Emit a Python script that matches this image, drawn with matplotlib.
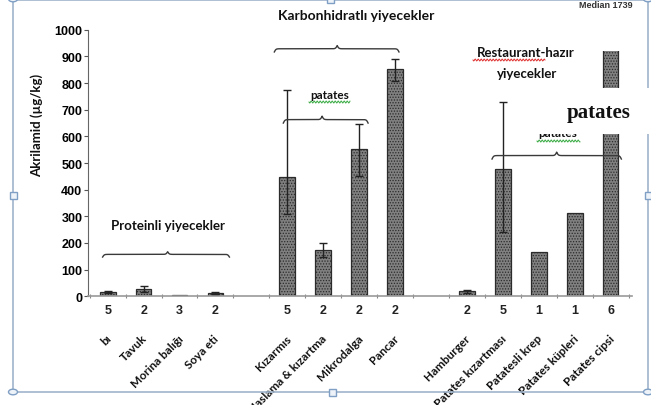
import numpy as np
import matplotlib
matplotlib.use("Agg")
import matplotlib.pyplot as plt
from matplotlib.patches import Rectangle, Circle
from matplotlib.lines import Line2D

# Akrilamid düzeyleri (medyan, µg/kg) ve aralıklar
groups = [4, 4, 5]
categories = ["bı", "Tavuk", "Morina balığı", "Soya eti",
              "Kızarmıs", "Haslama & kızartma", "Mikrodalga", "Pancar",
              "Hamburger", "Patates kızartması", "Patatesli krep",
              "Patates küpleri", "Patates cipsi"]
values = [17, 28, 3, 12, 447, 172, 552, 852, 18, 476, 165, 312, 1739]
err_low = [13, 14, None, 8, 310, 146, 452, 809, 13, 240, None, None, None]
err_high = [21, 40, None, 15, 775, 199, 647, 890, 22, 729, None, None, None]
counts = [5, 2, 3, 2, 5, 2, 2, 2, 2, 5, 1, 1, 6]
yticks = list(range(0, 1001, 100))

W, H = 651, 406
plt.rcParams["hatch.linewidth"] = 0.6
fig = plt.figure(figsize=(W / 100, H / 100), dpi=100)
ax = fig.add_axes([0.135, 0.268, 0.836, 0.656])

# pozisyonlar: gruplar arasında bir boşluk
pos = []
p = 0
for g in groups:
    for _ in range(g):
        pos.append(p)
        p += 1
    p += 1
pos = np.array(pos)

bars = ax.bar(pos, values, width=0.44, color="#808080", edgecolor="#2b2b2b",
              hatch="......", linewidth=0.9, zorder=2)
# kırık eksen: cips çubuğu üstten kesik
clip = Rectangle((-1, 0), 17, 920, transform=ax.transData)
bars[-1].set_clip_path(clip)

for x, v, lo, hi in zip(pos, values, err_low, err_high):
    if lo is None:
        continue
    ax.errorbar(x, v, yerr=[[v - lo], [hi - v]], fmt="none", ecolor="#222222",
                elinewidth=1, capsize=3, capthick=1, zorder=3)

ax.set_xlim(-0.55, 14.6)
ax.set_ylim(0, 1000)
ax.set_yticks(yticks)
ax.set_yticklabels([str(t) for t in yticks], fontsize=9, fontweight="bold",
                   family="Liberation Sans")
ax.set_xticks(np.arange(-0.5, 15, 1.0))
ax.set_xticklabels([])
ax.tick_params(axis="x", length=3, direction="inout", color="#888888")
ax.tick_params(axis="y", length=3, color="#555555", pad=1)
for s in ["top", "right"]:
    ax.spines[s].set_visible(False)
ax.spines["left"].set_color("#666666")
ax.spines["bottom"].set_color("#999999")
ax.spines["bottom"].set_linewidth(1.2)

tx = ax.get_xaxis_transform()
for x, n, lab in zip(pos, counts, categories):
    ax.text(x, -0.052, str(n), transform=tx, ha="center", va="center",
            fontsize=9, fontweight="bold", family="Liberation Sans", color="#222222")
    ax.text(x + 0.05, -0.15, lab, transform=tx, ha="right", va="center",
            rotation=45, rotation_mode="anchor", fontsize=8.5, fontweight="bold",
            family="Lato", color="#111111")


def brace(x0, x1, xm, y, h):
    # yatay küme parantezi, uçlar aşağı
    k = 45.0

    def half(a, b, xs):
        f = 0.5 / (1 + np.exp(-k * (xs - a))) + 0.5 / (1 + np.exp(-k * (xs - b)))
        f0 = 0.5 / (1 + np.exp(-k * 0)) + 0.5 / (1 + np.exp(-k * (a - b)))
        f1 = 0.5 / (1 + np.exp(-k * (b - a))) + 0.5 / (1 + np.exp(0))
        return (f - f0) / (f1 - f0)

    xl = np.linspace(x0, xm, 200)
    xr = np.linspace(xm, x1, 200)
    yl = half(x0, xm, xl)
    yr = half(x0, x1 - xm + x0, (x1 - xr) + x0)
    ax.plot(np.r_[xl, xr], y + h * np.r_[yl, yr], color="#3a3a3a", lw=1.0,
            clip_on=False, zorder=4)


brace(4.64, 8.11, 6.39, 917, 24)
brace(4.89, 7.25, 5.97, 650, 26)
brace(-0.14, 3.39, 1.67, 147, 20)
brace(10.7, 14.3, 12.5, 515, 26)

txt = dict(family="Lato", fontweight="bold", color="#111111", ha="center", va="center")


def ftext(x, y, s, **kw):
    d = dict(txt)
    d.update(kw)
    fig.text(x / W, 1 - y / H, s, **d)


def squiggle(x0, x1, y, color):
    xs = np.linspace(x0, x1, 120)
    ys = y + 1.0 * np.sin((xs - x0) * 2 * np.pi / 3.0)
    fig.add_artist(Line2D(xs / W, 1 - ys / H, color=color, lw=0.7,
                          transform=fig.transFigure, zorder=6))


ftext(356, 16, "Karbonhidratlı yiyecekler", fontsize=10)
ftext(330, 96, "patates", fontsize=8.5)
squiggle(309, 350, 103, "#3fae49")
ftext(168, 226, "Proteinli yiyecekler", fontsize=9.5)
ftext(526, 53, "Restaurant-hazır", fontsize=9.5)
squiggle(473, 545, 61, "#e03030")
ftext(527, 74, "yiyecekler", fontsize=9.5)
ftext(558, 134, "patates", fontsize=8.5, zorder=6)
squiggle(537, 580, 142, "#3fae49")
ftext(606, 6, "Median 1739", fontsize=6.5, family="Liberation Sans", color="#333333")

fig.text(37 / W, 1 - 125 / H, "Akrilamid (µg/kg)", rotation=90, ha="center",
         va="center", fontsize=9.5, fontweight="bold", family="Lato", color="#111111")

# metin kutusu çerçevesi ve tutamaçlar
fc = "#9fb4cc"
px = lambda x, y: (x / W, 1 - y / H)
for (xa, ya), (xb, yb) in [((13, 0.5), (648, 0.5)), ((13, 0), (13, 393)),
                           ((13, 393), (648, 393)), ((648, 0), (648, 393))]:
    fig.add_artist(Line2D([xa / W, xb / W], [1 - ya / H, 1 - yb / H], color=fc,
                          lw=1.2, transform=fig.transFigure, zorder=5))

# beyaz kutu ve üst yazı
fig.add_artist(Rectangle(px(520, 135), 131 / W, 46 / H, transform=fig.transFigure,
                         facecolor="white", edgecolor="none", zorder=7))
fig.text(599 / W, 1 - 113 / H, "patates", ha="center", va="center", fontsize=15,
         fontweight="bold", family="Liberation Serif", color="#111111", zorder=8)

for (x, y) in [(13, 0), (13, 393), (648, 0), (648, 393)]:
    fig.add_artist(Circle(px(x, y), 4.5 / W, transform=fig.transFigure,
                          facecolor="#eef3f9", edgecolor="#7f9fc4", lw=1, zorder=9))
for (x, y) in [(13, 196), (332, 393), (330, 0), (648, 196)]:
    fig.add_artist(Rectangle(px(x - 3.5, y + 3.5), 7 / W, 7 / H, transform=fig.transFigure,
                             facecolor="#eef3f9", edgecolor="#7f9fc4", lw=1, zorder=9))

fig.savefig("out.png", dpi=100)
